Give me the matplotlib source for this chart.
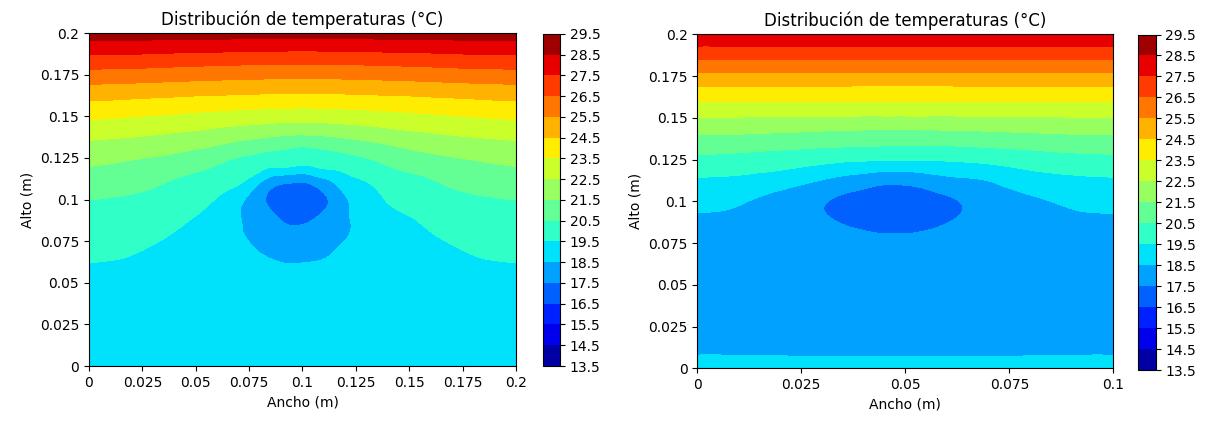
import numpy as np
import matplotlib
matplotlib.use("Agg")
import matplotlib.pyplot as plt
import matplotlib.tri as mtri
from matplotlib.ticker import FuncFormatter

# niveles de las isotermas (barra de color 13.5 ... 29.5)
niveles = np.arange(13.5, 30.0, 1.0)

# placa de 0.2 x 0.2 m (rejilla 17 x 17)
x_izq = np.linspace(0, 0.2, 17)
y_izq = np.linspace(0, 0.2, 17)
temp_izq = np.array([
    [19.07, 19.06, 19.04, 19.00, 18.97, 18.94, 18.91, 18.89, 18.88, 18.89, 18.91, 18.94, 18.97, 19.00, 19.04, 19.06, 19.07],
    [19.08, 19.07, 19.05, 19.01, 18.97, 18.93, 18.89, 18.87, 18.86, 18.87, 18.89, 18.93, 18.97, 19.01, 19.05, 19.07, 19.08],
    [19.12, 19.11, 19.08, 19.03, 18.98, 18.92, 18.86, 18.83, 18.82, 18.83, 18.86, 18.92, 18.98, 19.03, 19.08, 19.11, 19.12],
    [19.18, 19.16, 19.12, 19.05, 18.98, 18.88, 18.80, 18.76, 18.75, 18.77, 18.81, 18.89, 18.98, 19.05, 19.12, 19.16, 19.18],
    [19.28, 19.25, 19.20, 19.10, 19.00, 18.82, 18.72, 18.64, 18.64, 18.66, 18.75, 18.85, 19.00, 19.10, 19.20, 19.25, 19.28],
    [19.51, 19.47, 19.34, 19.15, 19.00, 18.85, 18.70, 18.52, 18.48, 18.59, 18.75, 18.88, 19.00, 19.15, 19.34, 19.47, 19.51],
    [19.84, 19.79, 19.66, 19.40, 19.15, 18.92, 18.49, 18.06, 17.93, 18.25, 18.68, 19.00, 19.15, 19.40, 19.66, 19.79, 19.84],
    [20.17, 20.12, 19.99, 19.76, 19.42, 18.95, 18.33, 17.62, 17.42, 17.95, 18.60, 19.15, 19.42, 19.76, 19.99, 20.12, 20.17],
    [20.50, 20.44, 20.33, 20.15, 19.84, 19.30, 18.30, 17.23, 17.02, 17.55, 18.76, 19.45, 19.84, 20.15, 20.33, 20.44, 20.50],
    [21.10, 21.00, 20.83, 20.56, 20.31, 19.99, 19.45, 18.10, 17.85, 18.62, 19.45, 19.99, 20.31, 20.56, 20.83, 21.00, 21.10],
    [21.79, 21.67, 21.52, 21.34, 21.08, 20.73, 20.37, 20.11, 19.90, 20.11, 20.37, 20.73, 21.08, 21.34, 21.52, 21.67, 21.79],
    [22.65, 22.56, 22.46, 22.31, 22.14, 21.91, 21.67, 21.44, 21.31, 21.44, 21.67, 21.91, 22.14, 22.31, 22.46, 22.56, 22.65],
    [23.67, 23.59, 23.49, 23.39, 23.28, 23.16, 23.05, 22.97, 22.93, 22.97, 23.05, 23.16, 23.28, 23.39, 23.49, 23.59, 23.67],
    [24.82, 24.76, 24.68, 24.61, 24.53, 24.48, 24.42, 24.38, 24.36, 24.38, 24.42, 24.48, 24.53, 24.61, 24.68, 24.76, 24.82],
    [26.14, 26.09, 26.05, 25.98, 25.92, 25.86, 25.81, 25.78, 25.76, 25.78, 25.81, 25.86, 25.92, 25.98, 26.05, 26.09, 26.14],
    [27.58, 27.55, 27.51, 27.45, 27.39, 27.36, 27.32, 27.29, 27.27, 27.29, 27.32, 27.36, 27.39, 27.45, 27.51, 27.55, 27.58],
    [29.05, 29.05, 29.03, 29.00, 29.00, 28.98, 28.96, 28.95, 28.95, 28.95, 28.96, 28.98, 29.00, 29.00, 29.03, 29.05, 29.05],
])

# lecturas extra alrededor del tubo (centros de celda de la rejilla)
x_tubo = [0.06875, 0.08125, 0.09375, 0.10625, 0.11875, 0.13125]
y_tubo = [0.05625, 0.06875, 0.08125, 0.09375, 0.10625, 0.11875]
temp_tubo = np.array([
    [18.80, 18.66, 18.60, 18.63, 18.74, 18.85],
    [18.80, 18.45, 18.21, 18.29, 18.59, 18.92],
    [18.63, 18.11, 17.64, 17.72, 18.37, 18.88],
    [18.65, 17.76, 17.12, 17.27, 18.26, 18.97],
    [19.35, 17.90, 17.23, 17.38, 18.61, 19.30],
    [20.10, 19.65, 19.35, 19.40, 19.70, 20.10],
])

# placa de 0.1 x 0.2 m
x_der = np.linspace(0, 0.1, 17)
y_der = np.linspace(0, 0.2, 17)
temp_der = np.array([
    [18.62, 18.62, 18.62, 18.62, 18.62, 18.62, 18.62, 18.62, 18.62, 18.62, 18.62, 18.62, 18.62, 18.62, 18.62, 18.62, 18.62],
    [18.44, 18.44, 18.43, 18.43, 18.42, 18.42, 18.42, 18.42, 18.42, 18.42, 18.42, 18.42, 18.42, 18.43, 18.43, 18.44, 18.44],
    [18.33, 18.33, 18.32, 18.31, 18.30, 18.29, 18.29, 18.28, 18.28, 18.28, 18.29, 18.29, 18.30, 18.31, 18.32, 18.33, 18.33],
    [18.28, 18.28, 18.27, 18.26, 18.24, 18.23, 18.22, 18.22, 18.22, 18.22, 18.22, 18.23, 18.25, 18.26, 18.27, 18.28, 18.28],
    [18.27, 18.27, 18.25, 18.22, 18.19, 18.17, 18.16, 18.15, 18.15, 18.15, 18.16, 18.18, 18.21, 18.24, 18.26, 18.27, 18.28],
    [18.29, 18.28, 18.25, 18.20, 18.12, 18.06, 18.02, 18.00, 18.00, 18.02, 18.06, 18.12, 18.18, 18.23, 18.27, 18.29, 18.30],
    [18.27, 18.26, 18.22, 18.12, 18.00, 17.90, 17.80, 17.73, 17.72, 17.77, 17.86, 17.98, 18.08, 18.17, 18.23, 18.27, 18.28],
    [18.30, 18.28, 18.20, 18.05, 17.83, 17.60, 17.38, 17.25, 17.25, 17.36, 17.57, 17.81, 18.05, 18.15, 18.25, 18.30, 18.32],
    [18.84, 18.75, 18.49, 18.17, 17.84, 17.51, 17.27, 17.15, 17.14, 17.25, 17.48, 17.81, 18.15, 18.37, 18.60, 18.80, 18.87],
    [19.40, 19.36, 19.24, 19.04, 18.75, 18.39, 18.08, 17.80, 17.78, 18.04, 18.30, 18.47, 18.83, 19.10, 19.26, 19.36, 19.40],
    [20.25, 20.21, 20.13, 20.03, 19.91, 19.77, 19.65, 19.58, 19.55, 19.58, 19.64, 19.75, 19.89, 20.02, 20.13, 20.20, 20.25],
    [21.31, 21.28, 21.23, 21.16, 21.09, 21.02, 20.97, 20.93, 20.92, 20.93, 20.97, 21.02, 21.09, 21.16, 21.23, 21.28, 21.31],
    [22.47, 22.47, 22.45, 22.43, 22.41, 22.39, 22.38, 22.37, 22.37, 22.37, 22.38, 22.39, 22.41, 22.43, 22.45, 22.47, 22.47],
    [23.83, 23.83, 23.82, 23.81, 23.80, 23.79, 23.79, 23.78, 23.78, 23.78, 23.79, 23.79, 23.80, 23.81, 23.82, 23.83, 23.83],
    [25.24, 25.24, 25.23, 25.23, 25.22, 25.22, 25.21, 25.21, 25.21, 25.21, 25.21, 25.22, 25.22, 25.23, 25.23, 25.24, 25.24],
    [26.83, 26.83, 26.83, 26.83, 26.83, 26.83, 26.83, 26.83, 26.83, 26.83, 26.83, 26.83, 26.83, 26.83, 26.83, 26.83, 26.83],
    [28.32, 28.32, 28.32, 28.32, 28.32, 28.32, 28.32, 28.32, 28.32, 28.32, 28.32, 28.32, 28.32, 28.32, 28.32, 28.32, 28.32],
])

xticks_izq = [0, 0.025, 0.05, 0.075, 0.1, 0.125, 0.15, 0.175, 0.2]
xticks_der = [0, 0.025, 0.05, 0.075, 0.1]
yticks = [0, 0.025, 0.05, 0.075, 0.1, 0.125, 0.15, 0.175, 0.2]

titulo = "Distribución de temperaturas (°C)"

fmt = FuncFormatter(lambda v, p: "%g" % round(v, 4))


def puntos(x, y, temp):
    X, Y = np.meshgrid(x, y)
    return X.ravel(), Y.ravel(), np.asarray(temp).ravel()


def dibujar(ax, cax, x, y, temp, xticks, extra=None):
    px, py, pt = puntos(x, y, temp)
    if extra is not None:
        ex, ey, et = puntos(*extra)
        px = np.concatenate([px, ex])
        py = np.concatenate([py, ey])
        pt = np.concatenate([pt, et])
    tri = mtri.Triangulation(px, py)
    refiner = mtri.UniformTriRefiner(tri)
    tri_f, temp_f = refiner.refine_field(pt, subdiv=3)
    cs = ax.tricontourf(tri_f, temp_f, levels=niveles, cmap="jet")
    ax.set_xlim(x[0], x[-1])
    ax.set_ylim(y[0], y[-1])
    ax.set_xticks(xticks)
    ax.set_yticks(yticks)
    ax.xaxis.set_major_formatter(fmt)
    ax.yaxis.set_major_formatter(fmt)
    ax.tick_params(labelsize=10)
    ax.set_title(titulo, fontsize=12)
    ax.set_xlabel("Ancho (m)", fontsize=10)
    ax.set_ylabel("Alto (m)", fontsize=10)
    cb = plt.colorbar(cs, cax=cax, ticks=niveles)
    cb.ax.yaxis.set_major_formatter(fmt)
    cb.ax.tick_params(labelsize=10)
    return cs


fig = plt.figure(figsize=(12.07, 4.22), dpi=100)

ax1 = fig.add_axes([0.0737, 0.1327, 0.3538, 0.789])
cax1 = fig.add_axes([0.4496, 0.1327, 0.0144, 0.787])
ax2 = fig.add_axes([0.5777, 0.1273, 0.3447, 0.7915])
cax2 = fig.add_axes([0.9431, 0.1232, 0.0144, 0.795])

dibujar(ax1, cax1, x_izq, y_izq, temp_izq, xticks_izq,
        extra=(x_tubo, y_tubo, temp_tubo))
dibujar(ax2, cax2, x_der, y_der, temp_der, xticks_der)

fig.savefig("out.png", dpi=100)
